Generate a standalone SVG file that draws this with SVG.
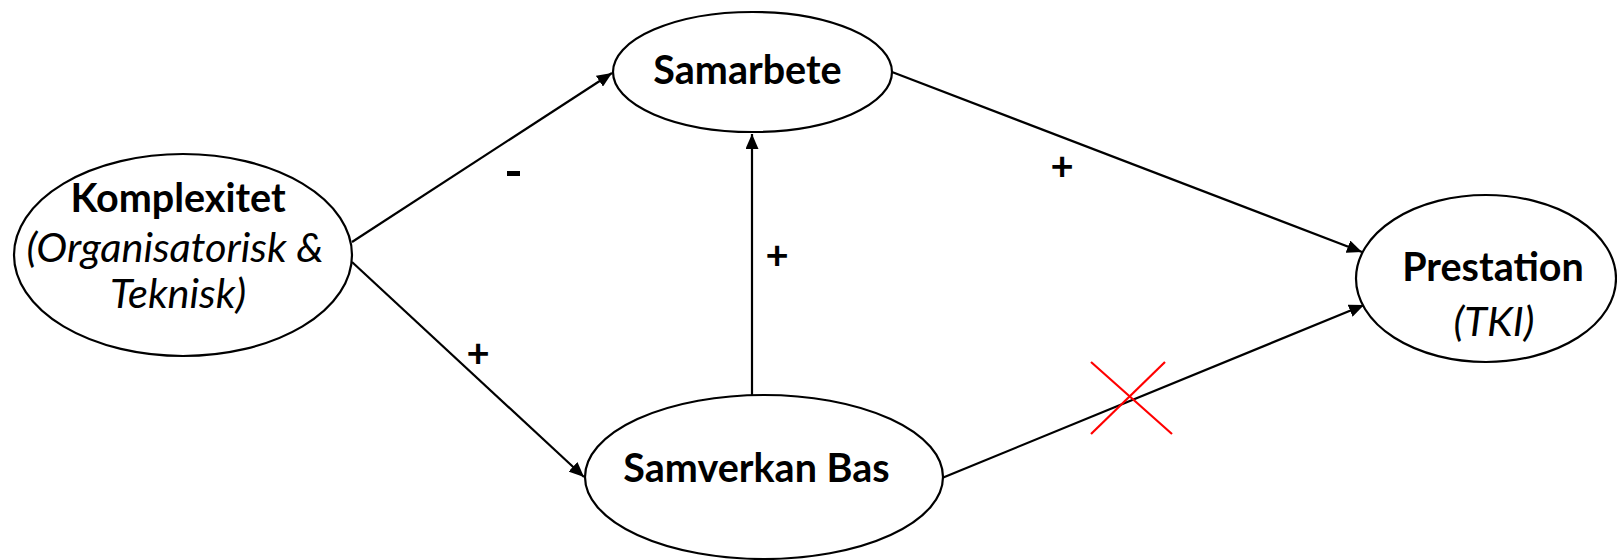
<svg xmlns="http://www.w3.org/2000/svg" width="1617" height="560" viewBox="0 0 1617 560">
<defs>
<style>
.node ellipse{fill:#fff;stroke:#000;stroke-width:2.2}
.t{font-family:Lato,"Open Sans","Liberation Sans",sans-serif;fill:#000;text-anchor:middle}
.b{font-weight:bold;font-size:39.5px}
.i{font-style:italic;font-size:41.5px}
.conn line{stroke:#000;stroke-width:2.2}
.lbl{font-family:Lato,"Open Sans","Liberation Sans",sans-serif;font-size:40px;font-weight:bold;fill:#000;text-anchor:middle}
.x line{stroke:#ff0000;stroke-width:2.2}
</style>
<marker id="arr" markerUnits="userSpaceOnUse" markerWidth="16" markerHeight="13" refX="15" refY="6.5" orient="auto">
<path d="M0,0 L15,6.5 L0,13 z" fill="#000"/>
</marker>
</defs>
<rect width="1617" height="560" fill="#fff"/>
<g id="connectors" class="conn">
<line x1="352" y1="242" x2="612" y2="73" marker-end="url(#arr)"/>
<line x1="352" y1="262" x2="584" y2="477" marker-end="url(#arr)"/>
<line x1="752" y1="395" x2="752" y2="134" marker-end="url(#arr)"/>
<line x1="892" y1="72" x2="1362" y2="252" marker-end="url(#arr)"/>
<line x1="942" y1="478" x2="1364" y2="305" marker-end="url(#arr)"/>
</g>
<g id="labels">
<rect x="507" y="171" width="13" height="5" fill="#000"/>
<text class="lbl" x="478" y="367">+</text>
<text class="lbl" x="777" y="269">+</text>
<text class="lbl" x="1062" y="180">+</text>
</g>
<g id="cross" class="x">
<line x1="1091" y1="362" x2="1172" y2="434"/>
<line x1="1165" y1="362" x2="1091" y2="434"/>
</g>
<g id="komplexitet" class="node">
<ellipse cx="183" cy="255" rx="169" ry="101"/>
<text class="t b" x="178" y="212">Komplexitet</text>
<text class="t i" x="175" y="262">(Organisatorisk &amp;</text>
<text class="t i" x="178" y="308">Teknisk)</text>
</g>
<g id="samarbete" class="node">
<ellipse cx="752.5" cy="72" rx="139.5" ry="60"/>
<text class="t b" x="747.5" y="84">Samarbete</text>
</g>
<g id="samverkan" class="node">
<ellipse cx="764" cy="477" rx="179" ry="82"/>
<text class="t b" x="756.5" y="482">Samverkan Bas</text>
</g>
<g id="prestation" class="node">
<ellipse cx="1486" cy="278.5" rx="130" ry="83.5"/>
<text class="t b" x="1493" y="281">Prestation</text>
<text class="t i" x="1494" y="336">(TKI)</text>
</g>
</svg>
